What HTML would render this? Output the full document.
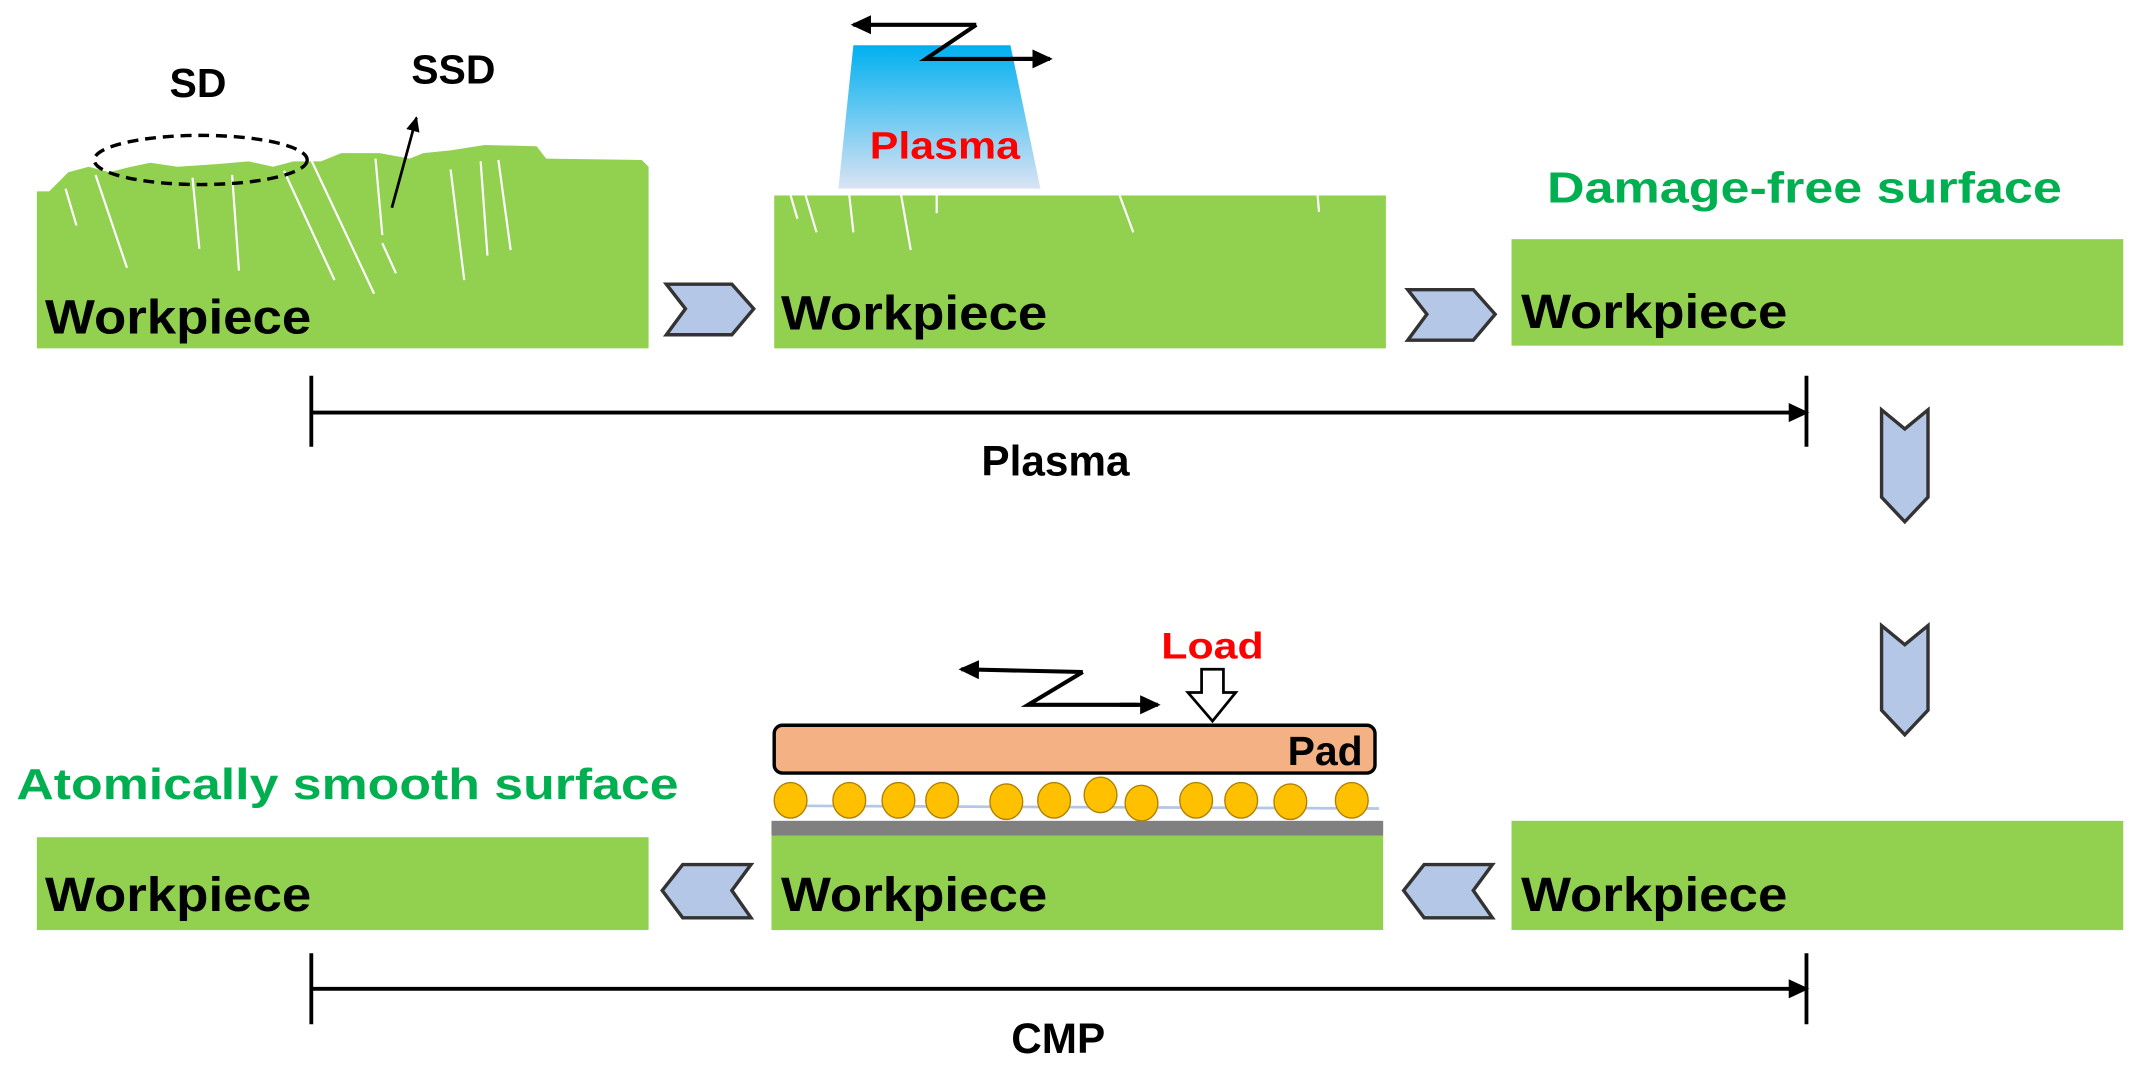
<!DOCTYPE html>
<html><head><meta charset="utf-8"><style>html,body{margin:0;padding:0;background:#fff}svg{display:block}</style></head><body>
<svg width="2141" height="1075" viewBox="0 0 1568 787" xmlns="http://www.w3.org/2000/svg" font-family="Liberation Sans, sans-serif" font-weight="bold">
<defs>
<linearGradient id="pg" x1="0" y1="0" x2="0" y2="1"><stop offset="0" stop-color="#00B0F0"/><stop offset="1" stop-color="#DAE3F3"/></linearGradient>
<marker id="ah" markerWidth="16" markerHeight="16" refX="13" refY="7" orient="auto" markerUnits="userSpaceOnUse"><path d="M0,0 L15,7 L0,14 Z" fill="#000"/></marker>
<marker id="as" markerWidth="12" markerHeight="12" refX="10" refY="5" orient="auto" markerUnits="userSpaceOnUse"><path d="M0,0 L11,5 L0,10 Z" fill="#000"/></marker>
</defs>
<!-- top block 1 -->
<path d="M27,255 L27,140 L36,140 L50,126 L65,122 L80,126 L96,122 L110,119 L130,122 L160,120 L182,118 L200,122 L215,118 L235,118 L250,112 L278,112 L300,116 L310,112 L330,110 L355,106 L393,107 L400,116 L470,117 L475,122 L475,255 Z" fill="#92D050"/>
<g stroke="#fff" stroke-width="1.6">
<line x1="48" y1="138" x2="56" y2="165"/><line x1="70" y1="128" x2="93" y2="196"/><line x1="141" y1="130" x2="146" y2="182"/>
<line x1="170" y1="128" x2="175" y2="198"/><line x1="208" y1="125" x2="245" y2="205"/><line x1="227" y1="115" x2="274" y2="215"/>
<line x1="275" y1="116" x2="280" y2="172"/><line x1="330" y1="124" x2="340" y2="205"/><line x1="352" y1="118" x2="357" y2="187"/>
<line x1="365" y1="117" x2="374" y2="183"/><line x1="280" y1="178" x2="290" y2="200"/>
</g>
<ellipse cx="147" cy="117" rx="78" ry="18" fill="none" stroke="#000" stroke-width="2.5" stroke-dasharray="8,5"/>
<line x1="287" y1="152" x2="305" y2="86" stroke="#000" stroke-width="2" marker-end="url(#as)"/>
<text x="145" y="71" font-size="30" text-anchor="middle">SD</text>
<text x="332" y="61" font-size="30" text-anchor="middle">SSD</text>
<text x="33" y="244" font-size="35" textLength="195" lengthAdjust="spacingAndGlyphs">Workpiece</text>
<!-- top block 2 -->
<path d="M614,138 L625,33 L740,33 L762,138 Z" fill="url(#pg)"/>
<text x="692" y="116" font-size="28" fill="#FF0000" text-anchor="middle" textLength="110" lengthAdjust="spacingAndGlyphs">Plasma</text>
<path d="M715,18 L678,43 L758,43" fill="none" stroke="#000" stroke-width="3"/>
<line x1="715" y1="18" x2="625" y2="18" stroke="#000" stroke-width="3" marker-end="url(#ah)"/>
<line x1="740" y1="43" x2="769" y2="43" stroke="#000" stroke-width="3" marker-end="url(#ah)"/>
<rect x="567" y="143" width="448" height="112" fill="#92D050"/>
<g stroke="#fff" stroke-width="1.6">
<line x1="579" y1="143" x2="584" y2="160"/><line x1="590" y1="143" x2="598" y2="170"/><line x1="622" y1="143" x2="625" y2="170"/>
<line x1="660" y1="143" x2="667" y2="183"/><line x1="686" y1="143" x2="686" y2="156"/><line x1="820" y1="143" x2="830" y2="170"/><line x1="965" y1="143" x2="966" y2="155"/>
</g>
<text x="572" y="241" font-size="35" textLength="195" lengthAdjust="spacingAndGlyphs">Workpiece</text>
<!-- top block 3 -->
<rect x="1107" y="175" width="448" height="78" fill="#92D050"/>
<text x="1133" y="148" font-size="32" fill="#00B050" textLength="377" lengthAdjust="spacingAndGlyphs">Damage-free surface</text>
<text x="1114" y="240" font-size="35" textLength="195" lengthAdjust="spacingAndGlyphs">Workpiece</text>
<!-- chevrons -->
<g fill="#B4C7E7" stroke="#333" stroke-width="2.5">
<path d="M488,208 L536,208 L552,226 L536,245 L488,245 L502,226 Z"/>
<path d="M1031,212 L1079,212 L1095,230 L1079,249 L1031,249 L1045,230 Z"/>
<path d="M1378,300 L1395,314 L1412,300 L1412,364 L1395,382 L1378,364 Z"/>
<path d="M1378,458 L1395,472 L1412,458 L1412,520 L1395,538 L1378,520 Z"/>
<path d="M550,633 L500,633 L485,652 L500,672 L550,672 L536,652 Z"/>
<path d="M1093,633 L1043,633 L1028,652 L1043,672 L1093,672 L1079,652 Z"/>
</g>
<!-- brackets -->
<g stroke="#000" stroke-width="2.8">
<line x1="228" y1="275" x2="228" y2="327"/><line x1="1323" y1="275" x2="1323" y2="327"/>
<line x1="228" y1="302" x2="1323" y2="302" marker-end="url(#ah)"/>
<line x1="228" y1="724" x2="1323" y2="724" marker-end="url(#ah)"/>
<line x1="228" y1="698" x2="228" y2="750"/><line x1="1323" y1="698" x2="1323" y2="750"/>
</g>
<text x="773" y="348" font-size="31" text-anchor="middle">Plasma</text>
<text x="775" y="771" font-size="31" text-anchor="middle">CMP</text>
<!-- bottom -->
<rect x="27" y="613" width="448" height="68" fill="#92D050"/>
<text x="12" y="585" font-size="32" fill="#00B050" textLength="485" lengthAdjust="spacingAndGlyphs">Atomically smooth surface</text>
<text x="33" y="667" font-size="35" textLength="195" lengthAdjust="spacingAndGlyphs">Workpiece</text>
<rect x="565" y="601" width="448" height="11" fill="#808080"/>
<rect x="565" y="612" width="448" height="69" fill="#92D050"/>
<text x="572" y="667" font-size="35" textLength="195" lengthAdjust="spacingAndGlyphs">Workpiece</text>
<rect x="567" y="531" width="440" height="35" rx="6" fill="#F4B183" stroke="#000" stroke-width="2.5"/>
<text x="998" y="560" font-size="30" text-anchor="end">Pad</text>
<line x1="585" y1="590" x2="1010" y2="592" stroke="#B4C7E7" stroke-width="2"/>
<g fill="#FFC000" stroke="#B08000" stroke-width="1">
<ellipse cx="579" cy="586" rx="12" ry="13"/><ellipse cx="622" cy="586" rx="12" ry="13"/><ellipse cx="658" cy="586" rx="12" ry="13"/><ellipse cx="690" cy="586" rx="12" ry="13"/>
<ellipse cx="737" cy="587" rx="12" ry="13"/><ellipse cx="772" cy="586" rx="12" ry="13"/><ellipse cx="806" cy="582" rx="12" ry="13"/><ellipse cx="836" cy="588" rx="12" ry="13"/>
<ellipse cx="876" cy="586" rx="12" ry="13"/><ellipse cx="909" cy="586" rx="12" ry="13"/><ellipse cx="945" cy="587" rx="12" ry="13"/><ellipse cx="990" cy="586" rx="12" ry="13"/>
</g>
<text x="888" y="482" font-size="27" fill="#FF0000" text-anchor="middle" textLength="75" lengthAdjust="spacingAndGlyphs">Load</text>
<path d="M880,490 L896,490 L896,507 L905,507 L888,528 L870,507 L880,507 Z" fill="#fff" stroke="#000" stroke-width="2"/>
<path d="M793,492 L753,516 L833,516" fill="none" stroke="#000" stroke-width="3"/>
<line x1="793" y1="492" x2="704" y2="490" stroke="#000" stroke-width="3" marker-end="url(#ah)"/>
<line x1="820" y1="516" x2="848" y2="516" stroke="#000" stroke-width="3" marker-end="url(#ah)"/>
<rect x="1107" y="601" width="448" height="80" fill="#92D050"/>
<text x="1114" y="667" font-size="35" textLength="195" lengthAdjust="spacingAndGlyphs">Workpiece</text>
</svg>
</body></html>
